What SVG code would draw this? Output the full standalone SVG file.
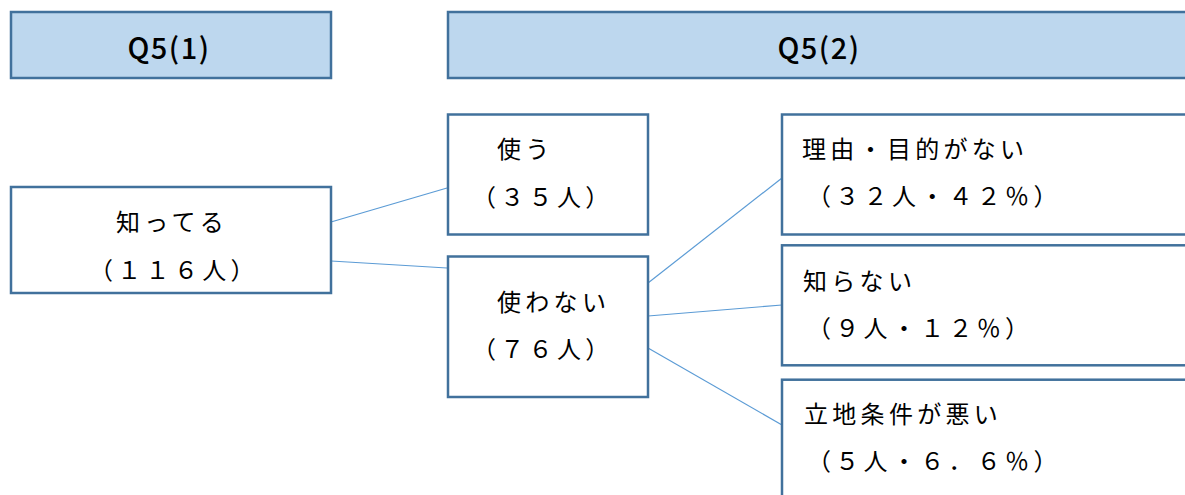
<svg xmlns="http://www.w3.org/2000/svg" width="1185" height="495" viewBox="0 0 1185 495">
<style>
.hdr{fill:#BDD7EE;stroke:#41719C;stroke-width:2.5}
.box{fill:#FFFFFF;stroke:#41719C;stroke-width:2.5}
.ht{font-family:"Noto Sans CJK JP","Noto Sans",sans-serif;font-weight:500;font-size:29px;fill:#000;letter-spacing:1.5px}
.t{font-family:"Noto Sans CJK JP",sans-serif;font-weight:normal;font-size:24px;fill:#000;letter-spacing:4.3px}
.c{stroke:#5B9BD5;stroke-width:1.2;fill:none}
</style>
<rect width="1185" height="495" fill="#FFFFFF"/>
<g id="connectors">
<line class="c" x1="331" y1="222" x2="447" y2="188"/>
<line class="c" x1="331" y1="261" x2="447" y2="268"/>
<line class="c" x1="648" y1="283" x2="782" y2="178"/>
<line class="c" x1="648" y1="316" x2="782" y2="305"/>
<line class="c" x1="648" y1="348" x2="782" y2="425"/>
</g>
<g id="q5-1">
<rect class="hdr" x="11" y="12" width="320" height="66"/>
<text class="ht" x="169" y="59" text-anchor="middle">Q5(1)</text>
</g>
<g id="q5-2">
<rect class="hdr" x="448" y="12" width="745" height="66"/>
<text class="ht" x="819" y="59" text-anchor="middle">Q5(2)</text>
</g>
<g id="shitteru">
<rect class="box" x="11" y="187" width="320" height="106"/>
<text class="t" x="116" y="231">知ってる</text>
<text class="t" x="89" y="279">（１１６人）</text>
</g>
<g id="tsukau">
<rect class="box" x="448" y="114.5" width="200" height="120"/>
<text class="t" x="497" y="158">使う</text>
<text class="t" x="472" y="206">（３５人）</text>
</g>
<g id="tsukawanai">
<rect class="box" x="448" y="256.5" width="200" height="140.5"/>
<text class="t" x="497" y="311">使わない</text>
<text class="t" x="472" y="358">（７６人）</text>
</g>
<g id="riyuu">
<rect class="box" x="782" y="114.5" width="420" height="120"/>
<text class="t" x="802" y="158">理由・目的がない</text>
<text class="t" x="807" y="205">（３２人・４２％）</text>
</g>
<g id="shiranai">
<rect class="box" x="782" y="245.3" width="420" height="120"/>
<text class="t" x="803" y="290">知らない</text>
<text class="t" x="807" y="337">（９人・１２％）</text>
</g>
<g id="ricchi">
<rect class="box" x="782" y="379.7" width="420" height="140"/>
<text class="t" x="804" y="423">立地条件が悪い</text>
<text class="t" x="807" y="470">（５人・６．６％）</text>
</g>
</svg>
